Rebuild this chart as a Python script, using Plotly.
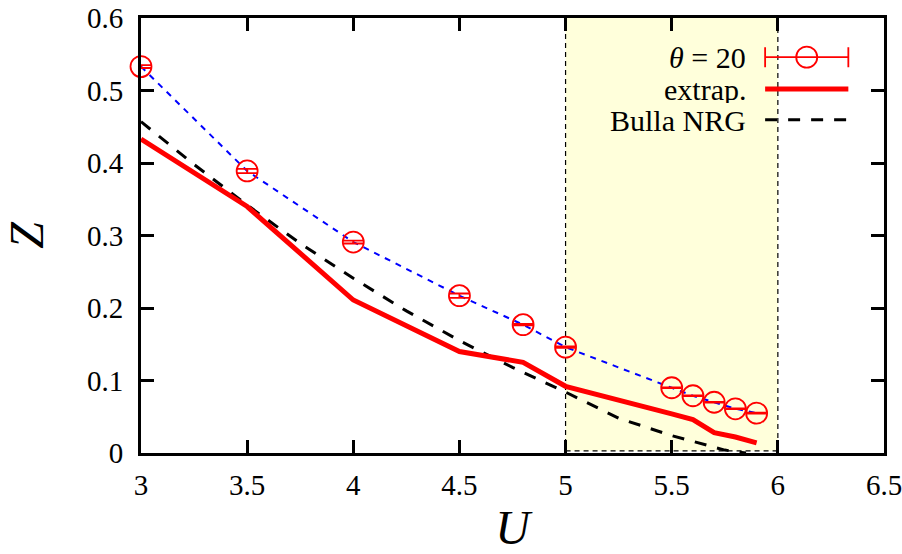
import plotly.graph_objects as go

# ---- data ----
U_theta = [3.0, 3.5, 4.0, 4.5, 4.8, 5.0, 5.5, 5.6, 5.7, 5.8, 5.9]
Z_theta = [0.533, 0.389, 0.291, 0.217, 0.177, 0.146, 0.090, 0.079, 0.070, 0.061, 0.055]
Z_theta_err = [0.002, 0.003, 0.002, 0.003, 0.001, 0.001, 0.0005, 0.0005, 0.0005, 0.0005, 0.0005]

U_extrap = [3.0, 3.5, 4.0, 4.5, 4.8, 5.0, 5.5, 5.6, 5.7, 5.8, 5.9]
Z_extrap = [0.433, 0.340, 0.211, 0.140, 0.125, 0.092, 0.054, 0.046, 0.028, 0.022, 0.014]

U_nrg = [3.0, 3.25, 3.5, 3.75, 4.0, 4.25, 4.5, 4.75, 5.0, 5.25, 5.5, 5.75, 5.85]
Z_nrg = [0.457, 0.398, 0.342, 0.289, 0.241, 0.196, 0.155, 0.118, 0.084, 0.048, 0.024, 0.004, 0.0]

x_ticks = [3, 3.5, 4, 4.5, 5, 5.5, 6, 6.5]
y_ticks = [0, 0.1, 0.2, 0.3, 0.4, 0.5, 0.6]
region = [5.0, 6.0]

legend_labels = ["<i>θ</i> = 20", "extrap.", "Bulla NRG"]

FONT = "Liberation Serif"
RED = "#ff0000"

fig = go.Figure()

# highlighted region
fig.add_shape(type="rect", xref="x", yref="y", x0=region[0], x1=region[1],
              y0=0.003, y1=0.606, fillcolor="#ffffdb",
              line=dict(color="black", width=1.2, dash="5px,4px"), layer="below")

# blue dotted line through theta data
fig.add_trace(go.Scatter(x=U_theta, y=Z_theta, mode="lines",
                         line=dict(color="#0000ff", width=2, dash="6px,6px"),
                         showlegend=False, cliponaxis=False))
# NRG dashed
fig.add_trace(go.Scatter(x=U_nrg, y=Z_nrg, mode="lines",
                         line=dict(color="black", width=3, dash="12px,11px"),
                         showlegend=False))
# extrap thick red
fig.add_trace(go.Scatter(x=U_extrap, y=Z_extrap, mode="lines",
                         line=dict(color=RED, width=5),
                         showlegend=False))
# theta markers with error bars
fig.add_trace(go.Scatter(x=U_theta, y=Z_theta, mode="markers",
                         marker=dict(symbol="circle-open", size=21, color=RED,
                                     line=dict(color=RED, width=1.8)),
                         error_y=dict(type="data", array=Z_theta_err, color=RED,
                                      thickness=1.8, width=10),
                         showlegend=False, cliponaxis=False))

# ---- manual legend (text right-aligned, sample on right) ----
leg_y = [0.910, 0.837, 0.766]
leg_text_x = 0.817
leg_x0, leg_x1 = 0.840, 0.952
leg_xc = (leg_x0 + leg_x1) / 2

for lbl, yy in zip(legend_labels, leg_y):
    fig.add_annotation(x=leg_text_x, y=yy, xref="paper", yref="paper",
                       text=lbl, showarrow=False, xanchor="right", yanchor="middle",
                       height=28, valign="middle",
                       font=dict(family=FONT, size=30, color="black"))

fig.add_trace(go.Scatter(x=[leg_xc], y=[leg_y[0]], xaxis="x2", yaxis="y2", mode="markers",
                         marker=dict(symbol="circle-open", size=21, color=RED,
                                     line=dict(color=RED, width=1.8)),
                         error_x=dict(type="data", array=[(leg_x1 - leg_x0) / 2], color=RED,
                                      thickness=1.8, width=10),
                         showlegend=False, cliponaxis=False))
fig.add_trace(go.Scatter(x=[leg_x0, leg_x1], y=[leg_y[1]] * 2, xaxis="x2", yaxis="y2",
                         mode="lines", line=dict(color=RED, width=5), showlegend=False))
fig.add_trace(go.Scatter(x=[leg_x0, leg_x1], y=[leg_y[2]] * 2, xaxis="x2", yaxis="y2",
                         mode="lines", line=dict(color="black", width=3, dash="12px,11px"),
                         showlegend=False))

axis_common = dict(showgrid=False, zeroline=False, showline=True, linecolor="black",
                   linewidth=3, mirror="ticks", ticks="inside", ticklen=13,
                   tickwidth=2.5, tickcolor="black", automargin=False,
                   ticklabeloverflow="allow",
                   tickfont=dict(family=FONT, size=29, color="black"))

fig.update_layout(
    width=902, height=554,
    margin=dict(l=141, r=18, t=18, b=101),
    paper_bgcolor="white", plot_bgcolor="white",
    showlegend=False,
    xaxis=dict(range=[3, 6.5], tickvals=x_ticks, ticktext=[f"{v:g}" for v in x_ticks],
               ticklabelstandoff=4,
               title=dict(text="<i>U</i>", font=dict(family=FONT, size=48, color="black"),
                          standoff=28),
               **axis_common),
    yaxis=dict(range=[0, 0.6], tickvals=y_ticks, ticktext=[f"{v:g}" for v in y_ticks],
               ticklabelstandoff=9,
               title=dict(text="<i>Z</i>", font=dict(family=FONT, size=48, color="black"),
                          standoff=29),
               **axis_common),
    xaxis2=dict(range=[0, 1], overlaying="x", visible=False, domain=[0, 1]),
    yaxis2=dict(range=[0, 1], overlaying="y", visible=False, domain=[0, 1]),
)

fig.write_html("out.html")
